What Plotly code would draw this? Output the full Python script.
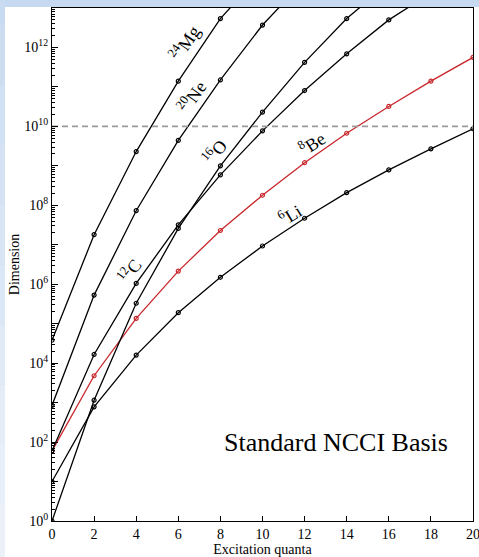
import plotly.graph_objects as go

# ---------------- data ----------------
quanta = [0, 2, 4, 6, 8, 10, 12, 14, 16, 18, 20]

li6 = [10, 780, 1.6e4, 1.9e5, 1.5e6, 9.3e6, 4.7e7, 2.1e8, 7.9e8, 2.7e9, 8.7e9]
be8 = [60, 4.8e3, 1.36e5, 2.15e6, 2.3e7, 1.8e8, 1.2e9, 6.7e9, 3.2e10, 1.4e11, 5.6e11]
c12 = [60, 1.66e4, 1.05e6, 3.2e7, 5.9e8, 7.7e9, 8.1e10, 6.9e11, 5.0e12, 2.4e13]
o16 = [1, 1.15e3, 3.3e5, 2.6e7, 1.0e9, 2.3e10, 4.2e11, 5.4e12, 4.3e13]
ne20 = [850, 5.3e5, 7.3e7, 4.4e9, 1.5e11, 3.7e12, 5.0e13]
mg24 = [3.8e4, 1.8e7, 2.3e9, 1.4e11, 5.4e12, 8.0e13]

series_names = ["6Li", "8Be", "12C", "16O", "20Ne", "24Mg"]
series_vals = [li6, be8, c12, o16, ne20, mg24]
series_colors = ["black", "#c8262b", "black", "black", "black", "black"]

limit_value = 1e10

y_decades = list(range(0, 14))
x_ticks = list(range(0, 21, 2))

# label annotations: (text, x, log10 y, angle)
labels = [
    ("<sup>24</sup>Mg", 6.32, 12.12, -56),
    ("<sup>20</sup>Ne", 6.64, 10.76, -55),
    ("<sup>16</sup>O", 7.74, 9.36, -51),
    ("<sup>12</sup>C", 3.70, 6.35, -54),
    ("<sup>8</sup>Be", 12.33, 9.57, -33),
    ("<sup>6</sup>Li", 11.30, 7.77, -31),
]

SERIF = "Liberation Serif"

fig = go.Figure()

for name, vals, col in zip(series_names, series_vals, series_colors):
    fig.add_trace(go.Scatter(
        x=quanta[:len(vals)], y=vals, mode="lines+markers", name=name,
        line=dict(color=col, width=1.3),
        marker=dict(symbol="circle-open", size=4, color=col, line=dict(width=1.2, color=col)),
        showlegend=False,
    ))

# dashed reference line
fig.add_trace(go.Scatter(
    x=[quanta[0], quanta[-1]], y=[limit_value, limit_value], mode="lines",
    line=dict(color="#9a9a9a", width=1.6, dash="6px,4px"), showlegend=False,
))

annotations = []
for text, ax, ay, ang in labels:
    annotations.append(dict(
        x=ax, y=ay, xref="x", yref="y", text=text, showarrow=False,
        textangle=ang, font=dict(family=SERIF, size=18, color="black"),
    ))

annotations.append(dict(
    x=13.5, y=1.99, xref="x", yref="y", text="Standard NCCI Basis", showarrow=False,
    font=dict(family=SERIF, size=26, color="black"),
))

# background: blue slide frame
shapes = [
    dict(type="rect", xref="paper", yref="paper", x0=-0.2, x1=1.1, y0=-0.2, y1=1.2,
         fillcolor="#c6d9f0", line=dict(width=0), layer="below"),
]
n_strip = 12
for i in range(n_strip):
    t = i / (n_strip - 1)
    r = int(0xc6 + (0xf0 - 0xc6) * t)
    g = int(0xd9 + (0xf4 - 0xd9) * t)
    b = int(0xf0 + (0xfa - 0xf0) * t)
    y_top = 1.2 - (1.4 / n_strip) * i
    y_bot = y_top - 1.4 / n_strip
    shapes.append(dict(type="rect", xref="paper", yref="paper",
                       x0=-0.2, x1=-0.1116, y0=y_bot, y1=y_top,
                       fillcolor=f"rgb({r},{g},{b})", line=dict(width=0), layer="below"))
shapes.append(dict(type="rect", xref="paper", yref="paper", x0=-0.1116, x1=1.1, y0=-0.2, y1=1.002,
                   fillcolor="white", line=dict(width=0), layer="below"))

minor_vals = [m * 10 ** d for d in range(0, 13) for m in range(2, 10)]

fig.update_layout(
    width=479, height=557,
    margin=dict(l=52, r=6, t=8, b=36, autoexpand=False),
    paper_bgcolor="white", plot_bgcolor="white",
    shapes=shapes, annotations=annotations,
    font=dict(family=SERIF, color="black"),
    xaxis=dict(
        range=[0, 20], tickmode="array", tickvals=x_ticks,
        ticktext=[str(v) for v in x_ticks], automargin=False,
        ticklabeloverflow="allow",
        ticks="inside", ticklen=5, tickwidth=1, tickcolor="black",
        showline=True, linecolor="black", linewidth=1.3, mirror=True,
        showgrid=False, zeroline=False,
        tickfont=dict(family=SERIF, size=14),
        title=dict(text="Excitation quanta", font=dict(family=SERIF, size=14), standoff=3),
    ),
    yaxis=dict(
        type="log", range=[0, 13], automargin=False,
        ticklabeloverflow="allow",
        tickmode="array", tickvals=[10 ** d for d in y_decades],
        ticktext=[f"10<sup>{d}</sup>" if d % 2 == 0 and d <= 12 else "" for d in y_decades],
        ticks="inside", ticklen=6, tickwidth=1, tickcolor="black",
        minor=dict(tickmode="array", tickvals=minor_vals, ticks="inside", ticklen=3,
                   tickwidth=1, tickcolor="black", showgrid=False),
        showline=True, linecolor="black", linewidth=1.3, mirror=True,
        showgrid=False, zeroline=False,
        tickfont=dict(family=SERIF, size=14),
        title=dict(text="Dimension", font=dict(family=SERIF, size=14), standoff=1),
    ),
)

fig.write_html("out.html")
